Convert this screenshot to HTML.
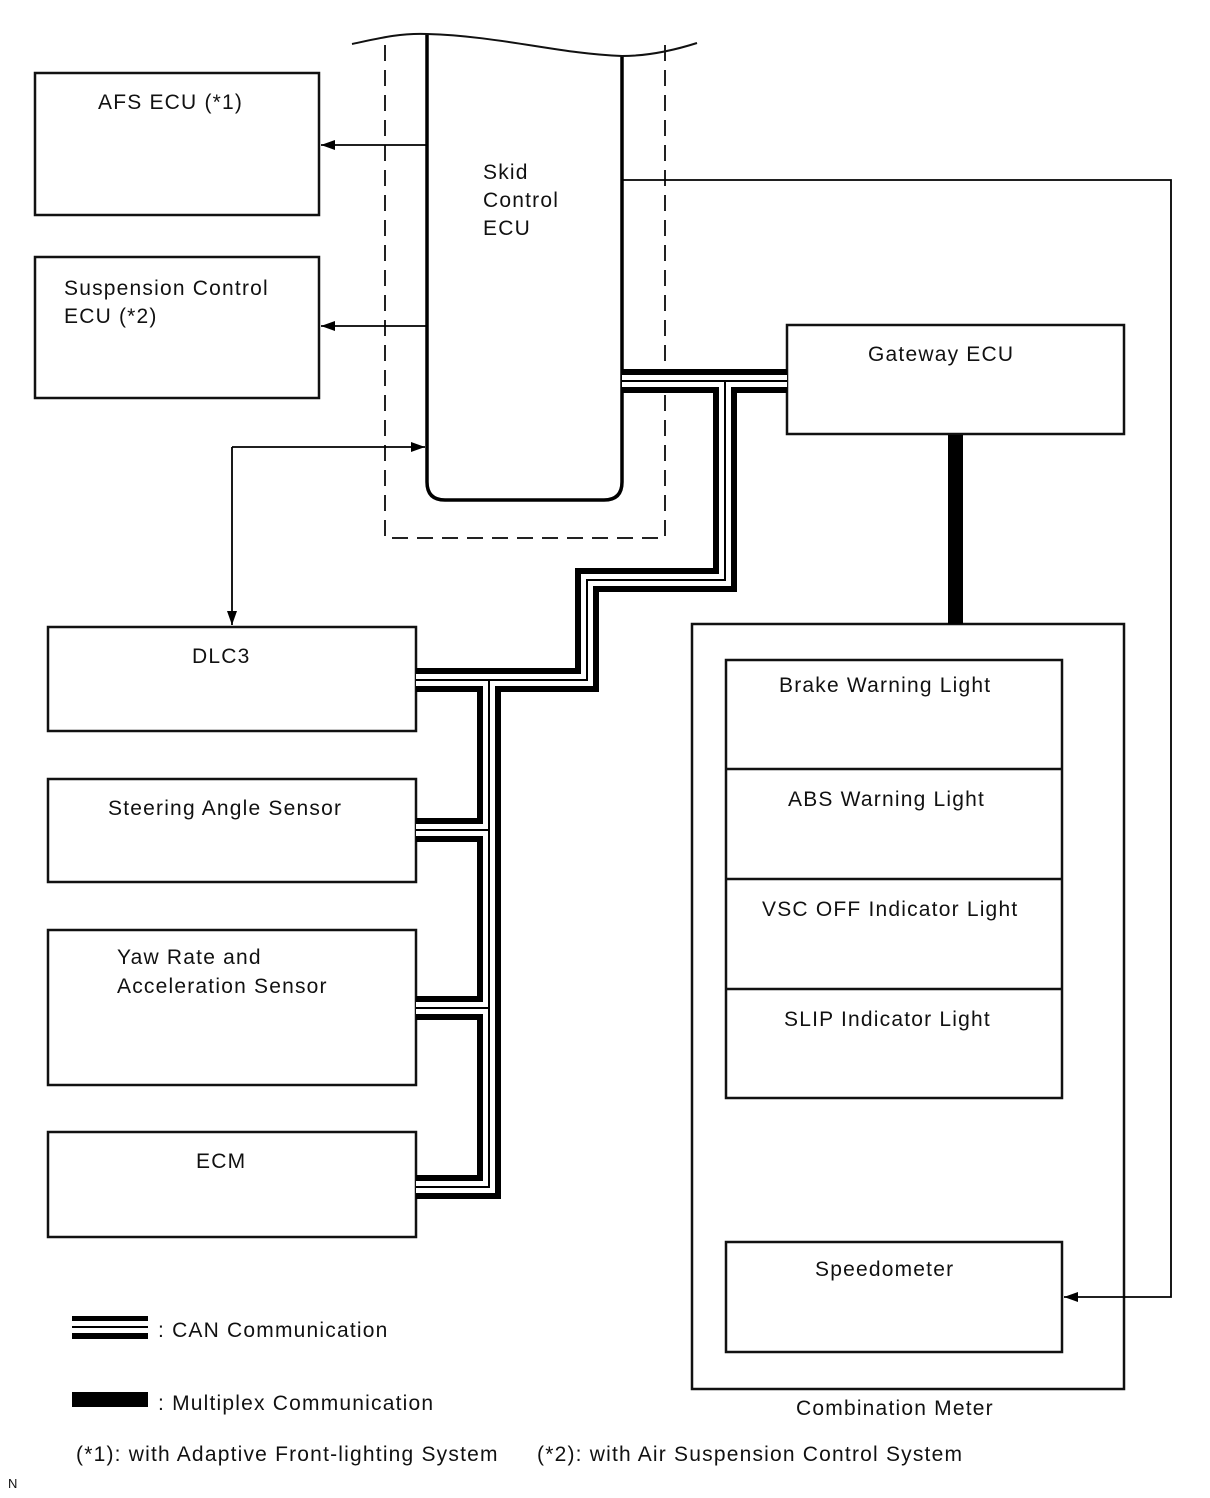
<!DOCTYPE html>
<html><head><meta charset="utf-8"><style>
html,body{margin:0;padding:0;background:#fff}
svg{display:block}
text{font-family:"Liberation Sans",Arial,sans-serif;font-size:21px;letter-spacing:1.2px;fill:#111}
</style></head><body>
<svg width="1210" height="1498" viewBox="0 0 1210 1498" xmlns="http://www.w3.org/2000/svg">
<defs>
<marker id="ah" markerWidth="14" markerHeight="10" refX="14" refY="5" orient="auto" markerUnits="userSpaceOnUse">
<path d="M0,0 L14,5 L0,10 z" fill="#000"/>
</marker>
</defs>
<g fill="none" stroke="#111" stroke-width="2.5">
<rect x="35" y="73" width="284" height="142"/>
<rect x="35" y="257" width="284" height="141"/>
<rect x="787" y="325" width="337" height="109"/>
<rect x="692" y="624" width="432" height="765"/>
<rect x="726" y="660" width="336" height="438"/>
<line x1="726" y1="769" x2="1062" y2="769"/>
<line x1="726" y1="879" x2="1062" y2="879"/>
<line x1="726" y1="989" x2="1062" y2="989"/>
<rect x="726" y="1242" width="336" height="110"/>
<rect x="48" y="627" width="368" height="104"/>
<rect x="48" y="779" width="368" height="103"/>
<rect x="48" y="930" width="368" height="155"/>
<rect x="48" y="1132" width="368" height="105"/>
</g>
<path d="M385,45 V538 H665 V45" fill="none" stroke="#222" stroke-width="2" stroke-dasharray="16,9"/>
<path d="M427,34 V482 Q427,500 445,500 H604 Q622,500 622,482 V56" fill="none" stroke="#000" stroke-width="3.5"/>
<path d="M352,44 C380,38 400,33 427,34 C500,36 560,54 622,56 C650,56 675,50 697,43" fill="none" stroke="#111" stroke-width="2"/>
<g stroke="#000" stroke-width="1.8" fill="none">
<line x1="427" y1="145" x2="321" y2="145" marker-end="url(#ah)"/>
<line x1="427" y1="326" x2="321" y2="326" marker-end="url(#ah)"/>
<polyline points="232,447 425,447" marker-end="url(#ah)"/>
<polyline points="232,447 232,625" marker-end="url(#ah)"/>
<polyline points="622,180 1171,180 1171,1297 1064,1297" marker-end="url(#ah)"/>
</g>
<rect x="948" y="435" width="15" height="189" fill="#000"/>
<g fill="none" stroke-linecap="butt" stroke-linejoin="miter">
<g stroke="#000" stroke-width="24">
<path d="M622,381 H787"/><path d="M725,381 V580 H587 V680 H416"/><path d="M489,680 V1187 H416"/><path d="M489,830 H416"/><path d="M489,1008 H416"/>
</g>
<g stroke="#fff" stroke-width="12">
<path d="M622,381 H787"/><path d="M725,381 V580 H587 V680 H416"/><path d="M489,680 V1187 H416"/><path d="M489,830 H416"/><path d="M489,1008 H416"/>
</g>
<g stroke="#000" stroke-width="2">
<path d="M622,381 H787"/><path d="M725,381 V580 H587 V680 H416"/><path d="M489,680 V1187 H416"/><path d="M489,830 H416"/><path d="M489,1008 H416"/>
</g>
</g>
<rect x="72" y="1316" width="76" height="5" fill="#000"/>
<rect x="72" y="1326" width="76" height="2" fill="#000"/>
<rect x="72" y="1333" width="76" height="6" fill="#000"/>
<rect x="72" y="1392" width="76" height="15" fill="#000"/>
<text x="98" y="109">AFS ECU (*1)</text>
<text x="64" y="295">Suspension Control</text>
<text x="64" y="323">ECU (*2)</text>
<text x="483" y="179">Skid</text>
<text x="483" y="207">Control</text>
<text x="483" y="235">ECU</text>
<text x="868" y="361">Gateway ECU</text>
<text x="779" y="692">Brake Warning Light</text>
<text x="788" y="806">ABS Warning Light</text>
<text x="762" y="916">VSC OFF Indicator Light</text>
<text x="784" y="1026">SLIP Indicator Light</text>
<text x="815" y="1276">Speedometer</text>
<text x="796" y="1415">Combination Meter</text>
<text x="192" y="663">DLC3</text>
<text x="108" y="815">Steering Angle Sensor</text>
<text x="117" y="964">Yaw Rate and</text>
<text x="117" y="993">Acceleration Sensor</text>
<text x="196" y="1168">ECM</text>
<text x="158" y="1337">: CAN Communication</text>
<text x="158" y="1410">:  Multiplex Communication</text>
<text x="76" y="1461">(*1):  with Adaptive Front-lighting System</text>
<text x="537" y="1461">(*2):  with Air Suspension Control System</text>
<text x="8" y="1488" style="font-size:13px;letter-spacing:0">N</text>
</svg>
</body></html>
